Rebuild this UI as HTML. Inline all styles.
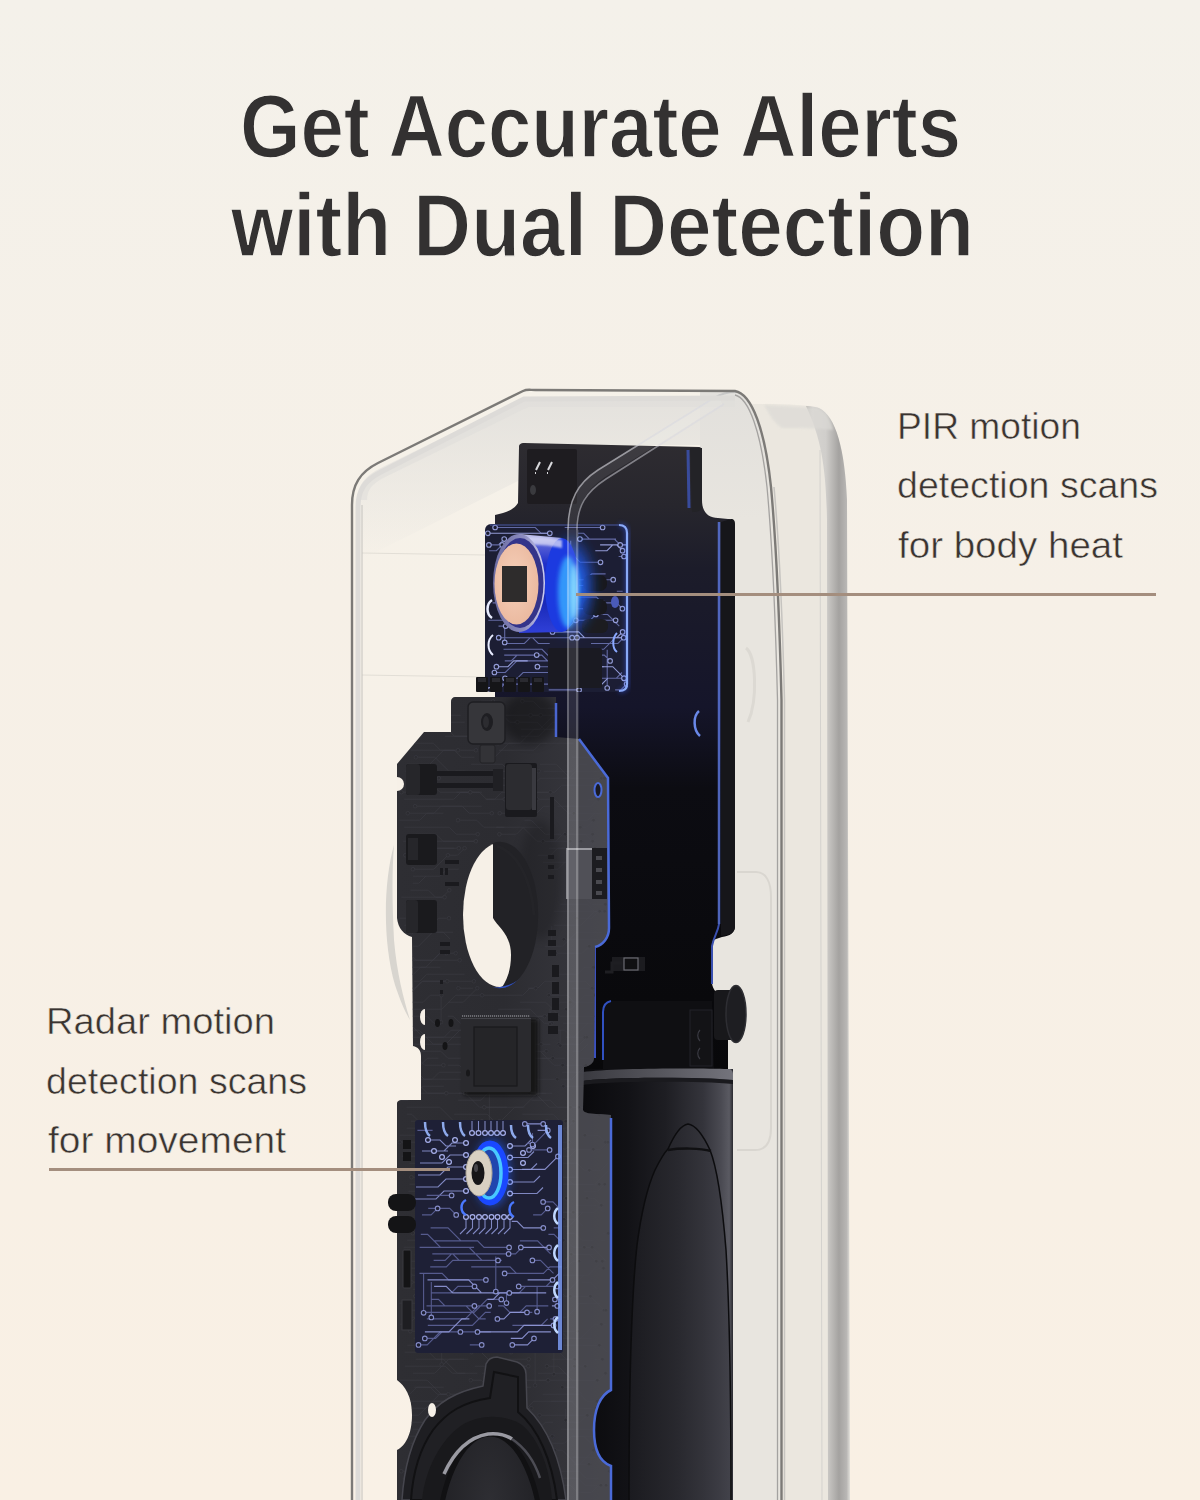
<!DOCTYPE html>
<html><head><meta charset="utf-8">
<style>
html,body{margin:0;padding:0;width:1200px;height:1500px;overflow:hidden;background:#f5f0e8;}
svg{display:block;position:absolute;left:0;top:0;}
text{font-family:"Liberation Sans",sans-serif;}
</style></head>
<body>
<svg width="1200" height="1500" viewBox="0 0 1200 1500">
<defs>
  <linearGradient id="bg" x1="0" y1="0" x2="0" y2="1">
    <stop offset="0" stop-color="#f4f1ea"/>
    <stop offset="0.4" stop-color="#f6f0e7"/>
    <stop offset="1" stop-color="#f9f0e4"/>
  </linearGradient>
  <linearGradient id="rim" x1="0" y1="0" x2="1" y2="0">
    <stop offset="0" stop-color="#bcbab6"/>
    <stop offset="0.15" stop-color="#d6d4d0"/>
    <stop offset="0.45" stop-color="#d0cecb"/>
    <stop offset="0.75" stop-color="#a4a2a0"/>
    <stop offset="0.92" stop-color="#b8b6b4"/>
    <stop offset="1" stop-color="#e0ded9"/>
  </linearGradient>
  <linearGradient id="batt" x1="0" y1="0" x2="1" y2="0">
    <stop offset="0" stop-color="#0a0a0d"/>
    <stop offset="0.3" stop-color="#121216"/>
    <stop offset="0.55" stop-color="#1e1e23"/>
    <stop offset="0.8" stop-color="#34343b"/>
    <stop offset="0.92" stop-color="#4a4a52"/>
    <stop offset="0.975" stop-color="#5a5a62"/>
    <stop offset="1" stop-color="#2a2a30"/>
  </linearGradient>
  <linearGradient id="battin" x1="0" y1="0" x2="1" y2="0">
    <stop offset="0" stop-color="#1c1c21"/>
    <stop offset="0.5" stop-color="#2a2a30"/>
    <stop offset="1" stop-color="#3e3e46"/>
  </linearGradient>
  <linearGradient id="backb" x1="0" y1="0" x2="0" y2="1">
    <stop offset="0" stop-color="#2e2c31"/>
    <stop offset="0.1" stop-color="#27262d"/>
    <stop offset="0.2" stop-color="#1c1c2a"/>
    <stop offset="0.42" stop-color="#15152a"/>
    <stop offset="0.55" stop-color="#0c0c12"/>
    <stop offset="1" stop-color="#08080a"/>
  </linearGradient>
  <linearGradient id="mainpcb" x1="0" y1="0" x2="1" y2="0">
    <stop offset="0" stop-color="#2e2e33"/>
    <stop offset="0.5" stop-color="#2c2c31"/>
    <stop offset="0.8" stop-color="#34343a"/>
    <stop offset="1" stop-color="#38383e"/>
  </linearGradient>
  <linearGradient id="shelltop" x1="0" y1="0" x2="0" y2="1">
    <stop offset="0" stop-color="#e2e0dc"/>
    <stop offset="1" stop-color="#e2e0dc" stop-opacity="0"/>
  </linearGradient>
  <linearGradient id="canbody" x1="0" y1="0" x2="0" y2="1">
    <stop offset="0" stop-color="#c8c8ea"/>
    <stop offset="0.1" stop-color="#5a64d8"/>
    <stop offset="0.3" stop-color="#2030c8"/>
    <stop offset="0.7" stop-color="#1a2ab8"/>
    <stop offset="1" stop-color="#3040d8"/>
  </linearGradient>
  <radialGradient id="pirglow" cx="0.5" cy="0.5" r="0.5">
    <stop offset="0" stop-color="#3090ff"/>
    <stop offset="0.5" stop-color="#2060ff" stop-opacity="0.8"/>
    <stop offset="1" stop-color="#2060ff" stop-opacity="0"/>
  </radialGradient>
  <radialGradient id="spk" cx="0.5" cy="0.3" r="0.7">
    <stop offset="0" stop-color="#2e2e33"/>
    <stop offset="1" stop-color="#1c1c20"/>
  </radialGradient>
  <linearGradient id="pirrim" x1="0" y1="0" x2="1" y2="0">
    <stop offset="0" stop-color="#6a6aa0"/>
    <stop offset="0.6" stop-color="#8c8cc0"/>
    <stop offset="1" stop-color="#d0d0f0"/>
  </linearGradient>
  <radialGradient id="pirface" cx="0.45" cy="0.45" r="0.6">
    <stop offset="0" stop-color="#f6d0ba"/>
    <stop offset="1" stop-color="#eab89e"/>
  </radialGradient>
  <linearGradient id="lip" x1="0" y1="0" x2="1" y2="0">
    <stop offset="0" stop-color="#3a3a40"/>
    <stop offset="0.5" stop-color="#55555c"/>
    <stop offset="1" stop-color="#74747c"/>
  </linearGradient>
  <linearGradient id="rgrey" gradientUnits="userSpaceOnUse" x1="0" y1="395" x2="0" y2="520">
    <stop offset="0" stop-color="#e2e0dc"/>
    <stop offset="1" stop-color="#e8e5df"/>
  </linearGradient>
  <filter id="blur1" x="-50%" y="-50%" width="200%" height="200%"><feGaussianBlur stdDeviation="1"/></filter>
  <filter id="blur2" x="-50%" y="-50%" width="200%" height="200%"><feGaussianBlur stdDeviation="2"/></filter>
  <filter id="blur3" x="-50%" y="-50%" width="200%" height="200%"><feGaussianBlur stdDeviation="3"/></filter>
  <filter id="blur5" x="-50%" y="-50%" width="200%" height="200%"><feGaussianBlur stdDeviation="5"/></filter>
  <clipPath id="holeclip"><ellipse cx="500" cy="915" rx="38.2" ry="73.2"/></clipPath>
  <clipPath id="pirclip"><rect x="485" y="524" width="143" height="168" rx="6"/></clipPath>
  <clipPath id="radclip"><rect x="415" y="1120" width="148" height="233" rx="3"/></clipPath>
  <clipPath id="mainclip"><path id="mainpath" d="M455,697 L556,697 L556,737 L579,739 L608,778 L609,928 C609,938 603,945 595,947 L594,1058 C594,1063 590,1066 584,1067 L583,1110 C584,1113 590,1114 600,1114 L611,1115 L611,1390 C600,1395 594,1410 594,1430 C594,1450 600,1462 611,1466 L611,1500 L397,1500 L397,1450 C405,1446 412,1435 412,1415 C412,1396 405,1386 397,1380 L397,1104 C397,1101 399,1100 402,1100 L421,1100 L421,1056 C421,1050 418,1047 413,1046 L412,937 C404,935 398,928 397,918 L397,764 L424,732 L451,732 L451,701 C451,699 453,697 455,697 Z"/></clipPath>
</defs>
<!-- background -->
<rect x="0" y="0" width="1200" height="1500" fill="url(#bg)"/>

<!-- ===== back plate (right) ===== -->
<path d="M740,404 L762,404 C790,404 808,405 818,408 C836,416 845,450 847,500 L850,1500 L740,1500 Z" fill="#ebe7df"/>
<path d="M806,406 C812,406 816,407 819,408 C836,416 845,450 847,500 L850,1500 L828,1500 L827,520 C826,470 822,440 806,406 Z" fill="url(#rim)"/>
<path d="M764,405 L817,408 C826,412 831,420 833,430 C815,428 795,428 782,428 C775,424 770,416 764,405 Z" fill="#dcdad6" opacity="0.7" filter="url(#blur1)"/>

<!-- ===== shell interior ===== -->
<path d="M352,1500 L352,505 C352,485 360,472 378,463 L523,391 C527,389 530,390 535,390 L735,391 C752,394 765,430 771,487 C775,530 779,600 781.5,700 L781.5,1500 Z" fill="#ffffff" fill-opacity="0.08"/>
<!-- right interior greyer -->
<path d="M700,391 L735,391 C752,394 765,430 771,487 C775,530 779,600 781.5,700 L781.5,1500 L700,1500 Z" fill="url(#rgrey)"/>
<!-- top shading under diagonal -->
<path d="M360,505 C360,488 367,479 382,471 L526,399 L700,399 L700,445 L520,445 L520,480 L400,540 L360,560 Z" fill="url(#shelltop)" opacity="0.9"/>
<path d="M362,500 C362,488 368,480 382,473 L527,402 L735,402" fill="none" stroke="#e0deda" stroke-width="10" opacity="0.6"/>

<!-- faint lines in shell -->
<line x1="362" y1="553" x2="486" y2="555" stroke="#e2ded6" stroke-width="1.2"/>
<line x1="362" y1="675" x2="486" y2="677" stroke="#e2ded6" stroke-width="1.2"/>
<path d="M394,845 C384,880 382,940 395,985 C400,1000 405,1012 410,1020 C404,1000 397,975 394,940 C392,900 392,870 394,845 Z" fill="#d8d5cf"/>
<path d="M737,872 L756,872 C766,872 771,882 771,897 L771,1128 C771,1143 765,1150 755,1150 L737,1150" fill="none" stroke="#d9d6d0" stroke-width="2"/>
<path d="M746,648 C756,655 758,700 748,722" fill="none" stroke="#dcd9d3" stroke-width="3"/>

<!-- ===== back board ===== -->
<path d="M524,443 L699,447 C701,447 702,449 702,452 L702,500 C702,512 708,518 718,518 L728,519 C731,519 733,521 733,524 L735,926 C735,933 730,936 722,937 L716,939 C713,940 712,942 712,946 L712,982 C712,990 718,996 728,997 L728,1071 L583,1071 L583,760 L495,760 L495,515 C505,513 514,510 518,503 L519,447 C519,444 521,443 524,443 Z" fill="url(#backb)"/>
<!-- top label module -->
<rect x="527" y="449" width="50" height="55" rx="2" fill="#1e1c20"/>
<path d="M536,470 L540,462 M535,473 L536,473 M548,470 L552,462 M547,473 L548,473" stroke="#d8d8dc" stroke-width="2"/>
<ellipse cx="533" cy="490" rx="3" ry="5" fill="#3a3a3e"/>
<!-- board side face right -->
<path d="M690,448 L702,448 L702,505 C702,510 700,512 692,512 Z" fill="#232327"/>
<!-- knob -->
<rect x="714" y="990" width="22" height="50" rx="4" fill="#18181b"/>
<ellipse cx="736" cy="1014" rx="10" ry="28.5" fill="#1e1e22" stroke="#2e2e33" stroke-width="1.5"/>
<!-- lower module -->
<path d="M603,1012 C603,1004 606,1001 612,1001 L712,1001 L714,1069 L603,1069 Z" fill="#0f0f12"/>
<path d="M603,1060 L603,1012 C603,1005 606,1002 611,1001" fill="none" stroke="#3050c0" stroke-width="2"/>
<rect x="690" y="1010" width="22" height="56" fill="#131316" stroke="#232328" stroke-width="1"/>
<path d="M700,1030 C697,1033 697,1038 700,1041 M700,1048 C697,1051 697,1056 700,1059" fill="none" stroke="#3a3a42" stroke-width="1.2"/>
<rect x="612" y="957" width="33" height="14" fill="#1c1c20"/>
<rect x="624" y="958" width="14" height="12" fill="#101012" stroke="#6a6a72" stroke-width="1.2"/>
<path d="M605,972 L612,972 L612,963 L622,963" fill="none" stroke="#1e1e22" stroke-width="3"/>
<path d="M721,522 L731,519 C734,519 735,521 735,524 L735,926 C735,931 732,934 727,935 L721,936 Z" fill="#16161a"/>
<!-- back board blue edges -->
<path d="M688,450 L689,508" stroke="#3c52b0" stroke-width="3" opacity="0.85"/>
<path d="M719,522 L719,924" stroke="#5a74d8" stroke-width="2.5" opacity="0.85"/>
<path d="M719,924 C718,932 714,936 712,946 L712,984" fill="none" stroke="#3a50b0" stroke-width="2"/>
<path d="M699,711 C693,716 693,730 700,736" fill="none" stroke="#6a88e8" stroke-width="2.5"/>
<path d="M595,948 L595,1058" stroke="#3a50c0" stroke-width="2"/>

<!-- ===== battery ===== -->
<rect x="583" y="1069" width="150" height="431" fill="url(#batt)"/>
<path d="M583,1072 C610,1068 700,1068 728,1069 C731,1069 733,1071 733,1074 L733,1080 C700,1077 610,1077 583,1081 Z" fill="url(#lip)"/>
<path d="M583,1081 C610,1077 700,1077 733,1080 L733,1084 C700,1081 610,1081 583,1085 Z" fill="#1a1a1e"/>
<path d="M629,1500 C629,1400 631,1300 637,1245 C641,1215 646,1190 655,1170 C660,1160 664,1153 668,1149 C675,1133 681,1125 688,1124 C696,1125 703,1135 710,1150 C716,1165 722,1200 726,1250 C729,1300 731,1400 731,1500 Z" fill="url(#battin)" opacity="0.85"/>
<path d="M629,1500 C629,1400 631,1300 637,1245 C641,1215 646,1190 655,1170 C660,1160 664,1153 668,1149 C675,1133 681,1125 688,1124 C696,1125 703,1135 710,1150 C716,1165 722,1200 726,1250 C729,1300 731,1400 731,1500" fill="none" stroke="#0c0c0e" stroke-width="1.5"/>
<path d="M668,1150 C680,1148 700,1148 711,1151" fill="none" stroke="#101012" stroke-width="2.5"/>

<!-- ===== PIR PCB ===== -->
<rect x="485" y="524" width="143" height="168" rx="6" fill="#1c1e34"/>
<g clip-path="url(#pirclip)">
<path d="M495.1,527.5 L535.3,527.5 L541.1,533.3 L548.9,533.3 M564.7,527.5 L602.6,527.5 M578.1,533.3 L583.7,533.3 L589.5,539.1 L616.0,539.1 M579.9,539.1 L614.4,539.1 L620.2,544.9 M488.9,544.9 L498.4,544.9 L504.2,539.1 M489.1,550.7 L496.4,550.7 L502.2,544.9 M564.1,556.5 L574.4,556.5 L580.2,562.3 L600.5,562.3 M618.6,556.5 L624.0,556.5 M577.5,579.7 L585.9,579.7 L591.7,573.9 L605.6,573.9 M569.5,585.5 L583.2,585.5 L589.0,579.7 L613.2,579.7 M616.8,591.3 L622.7,591.3 M576.4,597.1 L596.4,597.1 L602.2,602.9 M492.6,602.9 L497.9,602.9 M605.0,602.9 L616.6,602.9 L622.4,608.7 M571.0,608.7 L585.3,608.7 L591.1,602.9 M595.1,614.5 L607.7,614.5 L619.3,626.1 M488.3,620.3 L503.4,620.3 M575.8,620.3 L590.1,620.3 L595.9,614.5 M498.5,626.1 L505.7,626.1 M563.1,626.1 L569.4,626.1 L575.2,620.3 L615.6,620.3 M498.7,637.7 L532.5,637.7 L538.3,643.5 L549.7,643.5 M504.6,643.5 L524.4,643.5 L530.2,637.7 L577.0,637.7 M591.0,643.5 L617.9,643.5 L623.7,637.7 M503.5,649.3 L542.0,649.3 L547.8,655.1 L552.8,655.1 M567.2,649.3 L603.7,649.3 L615.3,637.7 L626.7,637.7 M504.2,655.1 L541.8,655.1 L547.6,660.9 L573.5,660.9 M583.3,655.1 L604.3,655.1 L610.1,660.9 M504.8,660.9 L511.3,660.9 L517.1,655.1 L536.7,655.1 M557.9,660.9 L570.4,660.9 L576.2,666.7 L603.9,666.7 M537.4,666.7 L557.0,666.7 L568.6,678.3 L580.3,678.3 M494.4,672.5 L505.3,672.5 L516.9,660.9 L552.5,660.9 M568.8,672.5 L579.2,672.5 L585.0,678.3 L624.0,678.3 M505.0,678.3 L517.3,678.3 L523.1,672.5 L575.1,672.5 M597.0,678.3 L616.2,678.3 L622.0,672.5 M499.3,684.1 L558.1,684.1 L569.7,672.5 L576.5,672.5 M489.6,689.9 L498.6,689.9 L504.4,684.1 L524.7,684.1 M548.7,689.9 L579.1,689.9 M615.1,689.9 L620.8,689.9 L626.6,684.1 M570.7,540.7 L570.7,574.5 M607.2,649.8 L607.2,688.0 M504.7,627.6 L504.7,642.4" fill="none" stroke="#6a72b0" stroke-width="1.1" stroke-opacity="0.9"/>
<path d="M487.8,533.3 L549.8,533.3 M600.1,544.9 L616.7,544.9 L622.5,550.7 M595.3,550.7 L607.0,550.7 L612.8,544.9 L626.9,544.9 M552.5,631.9 L578.7,631.9 L584.5,637.7 L622.9,637.7 M572.1,637.7 L616.8,637.7 L622.6,631.9 M496.4,666.7 L507.9,666.7 L513.7,660.9 L527.7,660.9 M600.2,666.7 L612.8,666.7 L624.4,678.3 M595.5,684.1 L601.9,684.1 L607.7,678.3" fill="none" stroke="#a0a8e8" stroke-width="1.1" stroke-opacity="0.9"/>
<g fill="#1c1e30" stroke="#a0a8e8" stroke-width="1.1" stroke-opacity="0.9"><circle cx="495.1" cy="527.5" r="2.3"/><circle cx="602.6" cy="527.5" r="2.3"/><circle cx="549.8" cy="533.3" r="2.3"/><circle cx="487.8" cy="533.3" r="2.3"/><circle cx="620.2" cy="544.9" r="2.3"/><circle cx="579.9" cy="539.1" r="2.3"/><circle cx="504.2" cy="539.1" r="2.3"/><circle cx="488.9" cy="544.9" r="2.3"/><circle cx="622.5" cy="550.7" r="2.3"/><circle cx="502.2" cy="544.9" r="2.3"/><circle cx="600.5" cy="562.3" r="2.3"/><circle cx="564.1" cy="556.5" r="2.3"/><circle cx="624.0" cy="556.5" r="2.3"/><circle cx="613.2" cy="579.7" r="2.3"/><circle cx="569.5" cy="585.5" r="2.3"/><circle cx="602.2" cy="602.9" r="2.3"/><circle cx="622.4" cy="608.7" r="2.3"/><circle cx="571.0" cy="608.7" r="2.3"/><circle cx="595.9" cy="614.5" r="2.3"/><circle cx="575.8" cy="620.3" r="2.3"/><circle cx="505.7" cy="626.1" r="2.3"/><circle cx="615.6" cy="620.3" r="2.3"/><circle cx="552.5" cy="631.9" r="2.3"/><circle cx="498.7" cy="637.7" r="2.3"/><circle cx="622.6" cy="631.9" r="2.3"/><circle cx="572.1" cy="637.7" r="2.3"/><circle cx="577.0" cy="637.7" r="2.3"/><circle cx="623.7" cy="637.7" r="2.3"/><circle cx="573.5" cy="660.9" r="2.3"/><circle cx="610.1" cy="660.9" r="2.3"/><circle cx="536.7" cy="655.1" r="2.3"/><circle cx="496.4" cy="666.7" r="2.3"/><circle cx="537.4" cy="666.7" r="2.3"/><circle cx="624.4" cy="678.3" r="2.3"/><circle cx="552.5" cy="660.9" r="2.3"/><circle cx="494.4" cy="672.5" r="2.3"/><circle cx="624.0" cy="678.3" r="2.3"/><circle cx="575.1" cy="672.5" r="2.3"/><circle cx="505.0" cy="678.3" r="2.3"/><circle cx="597.0" cy="678.3" r="2.3"/><circle cx="524.7" cy="684.1" r="2.3"/><circle cx="489.6" cy="689.9" r="2.3"/><circle cx="579.1" cy="689.9" r="2.3"/><circle cx="626.6" cy="684.1" r="2.3"/><circle cx="570.7" cy="574.5" r="2.3"/><circle cx="607.2" cy="688.0" r="2.3"/><circle cx="504.7" cy="642.4" r="2.3"/></g>

</g>
<path d="M619,525 C624,525 627,528 627,533 L627,684 C627,689 624,691 619,691" fill="none" stroke="#3a60ff" stroke-width="5" opacity="0.35" filter="url(#blur2)"/>
<path d="M619,525 C624,525 627,528 627,533 L627,684 C627,689 624,691 619,691" fill="none" stroke="#8aaaf8" stroke-width="2.2"/>
<path d="M490,525 L619,525" stroke="#5a6ab8" stroke-width="1" opacity="0.8"/>
<!-- side lit notches on PIR -->
<path d="M492,600 C486,604 486,614 492,618" fill="none" stroke="#e8ecff" stroke-width="2.5"/>
<path d="M493,635 C487,640 487,650 493,655" fill="none" stroke="#e8ecff" stroke-width="2"/>
<path d="M617,633 C612,638 612,648 617,652" fill="none" stroke="#8aa8ff" stroke-width="2"/>
<!-- dark components on PIR -->
<rect x="583" y="575" width="24" height="16" rx="7" fill="#18181c"/>
<rect x="583" y="599" width="24" height="16" rx="7" fill="#18181c"/>
<rect x="582" y="619" width="26" height="14" rx="6" fill="#1c1c20"/>
<rect x="548" y="648" width="54" height="40" rx="2" fill="#1a1a22"/>
<ellipse cx="615" cy="602" rx="4" ry="6" fill="#4a5ab8"/>
<!-- pins -->
<g fill="#151518">
  <rect x="476" y="677" width="12" height="15" rx="1"/>
  <rect x="490" y="677" width="12" height="15" rx="1"/>
  <rect x="504" y="677" width="12" height="15" rx="1"/>
  <rect x="518" y="677" width="12" height="15" rx="1"/>
  <rect x="532" y="677" width="12" height="15" rx="1"/>
</g>
<g fill="#2a2a30">
  <rect x="478" y="678" width="8" height="4"/><rect x="492" y="678" width="8" height="4"/><rect x="506" y="678" width="8" height="4"/><rect x="520" y="678" width="8" height="4"/><rect x="534" y="678" width="8" height="4"/>
</g>
<!-- PIR sensor -->
<ellipse cx="570" cy="586" rx="28" ry="54" fill="url(#pirglow)" filter="url(#blur5)"/>
<path d="M519,534 L562,538 L562,632 L519,633 Z" fill="url(#canbody)"/>
<ellipse cx="562" cy="585" rx="17" ry="47" fill="#1c3ae0"/>
<ellipse cx="568" cy="592" rx="10" ry="36" fill="#38a8ff" opacity="0.85" filter="url(#blur2)"/>
<ellipse cx="574" cy="592" rx="4" ry="28" fill="#90e8ff" opacity="0.7" filter="url(#blur2)"/>
<path d="M524,537 C535,536 550,537 562,540 L562,548 C550,545 535,544 524,545 Z" fill="#e0e0f8" opacity="0.75" filter="url(#blur1)"/>
<ellipse cx="519" cy="583" rx="26" ry="49" fill="url(#pirrim)"/>
<ellipse cx="520" cy="583" rx="23.5" ry="45" fill="#34348a"/>
<ellipse cx="516.5" cy="584" rx="22" ry="40.5" fill="url(#pirface)"/>
<rect x="502" y="566" width="25" height="36" fill="#2e2c2c"/>

<!-- ===== main PCB ===== -->
<use href="#mainpath" fill="url(#mainpcb)"/>
<g clip-path="url(#mainclip)">
<path d="M410.2,701.2 L452.7,701.2 M481.3,701.2 L492.9,701.2 M522.4,701.2 L533.2,701.2 L540.2,708.2 L560.2,708.2 M578.0,701.2 L585.6,701.2 M402.0,708.2 L412.1,708.2 L419.1,701.2 L444.7,701.2 M469.0,708.2 L490.4,708.2 L497.4,715.2 L540.7,715.2 M548.0,708.2 L568.1,708.2 M413.7,715.2 L429.5,715.2 L436.5,722.2 L464.8,722.2 M489.3,715.2 L502.7,715.2 L509.7,722.2 L517.4,722.2 M530.6,715.2 L559.2,715.2 L573.2,701.2 L606.7,701.2 M415.7,722.2 L440.4,722.2 L454.4,736.2 L496.8,736.2 M514.0,722.2 L537.1,722.2 L544.1,729.2 L580.1,729.2 M590.1,722.2 L597.9,722.2 L604.9,715.2 M411.3,729.2 L436.6,729.2 L450.6,715.2 L460.7,715.2 M469.7,729.2 L487.0,729.2 L494.0,736.2 L499.2,736.2 M520.9,729.2 L539.7,729.2 L553.7,715.2 L577.6,715.2 M599.6,729.2 L605.3,729.2 M405.7,736.2 L416.2,736.2 L423.2,729.2 L435.7,729.2 M444.9,736.2 L484.5,736.2 L491.5,743.2 L498.0,743.2 M521.1,736.2 L539.0,736.2 L553.0,722.2 L560.7,722.2 M570.2,736.2 L589.5,736.2 L596.5,743.2 M411.0,743.2 L433.4,743.2 L440.4,750.2 L475.9,750.2 M495.5,743.2 L520.2,743.2 L534.2,729.2 L577.4,729.2 M598.1,743.2 L603.4,743.2 M410.6,750.2 L454.4,750.2 L461.4,757.2 L474.5,757.2 M499.0,750.2 L534.0,750.2 L541.0,743.2 L573.9,743.2 M588.9,750.2 L600.5,750.2 L607.5,757.2 M415.9,757.2 L434.8,757.2 L448.8,771.2 L465.0,771.2 M482.1,757.2 L494.6,757.2 L508.6,743.2 L547.3,743.2 M572.0,757.2 L593.3,757.2 L600.3,750.2 L607.2,750.2 M406.5,764.2 L429.7,764.2 L443.7,750.2 L458.0,750.2 M471.1,764.2 L502.3,764.2 L509.3,771.2 L515.7,771.2 M540.0,764.2 L556.3,764.2 L570.3,778.2 L601.5,778.2 M405.3,771.2 L417.1,771.2 L424.1,778.2 L438.8,778.2 M455.5,771.2 L516.5,771.2 L523.5,764.2 L530.4,764.2 M543.6,771.2 L572.7,771.2 L579.7,764.2 L586.9,764.2 M600.1,771.2 L605.3,771.2 M415.4,778.2 L430.8,778.2 L437.8,785.2 L472.2,785.2 M496.2,778.2 L524.8,778.2 L531.8,771.2 L538.6,771.2 M562.8,778.2 L568.7,778.2 L575.7,771.2 L602.1,771.2 M415.8,785.2 L432.9,785.2 L439.9,792.2 L481.9,792.2 M497.3,785.2 L533.2,785.2 L540.2,778.2 L573.9,778.2 M590.0,785.2 L597.4,785.2 L604.4,778.2 M401.4,792.2 L412.0,792.2 L426.0,778.2 L435.5,778.2 M456.3,792.2 L479.4,792.2 L486.4,799.2 L504.7,799.2 M524.4,792.2 L554.9,792.2 L561.9,785.2 L596.3,785.2 M404.2,799.2 L453.8,799.2 L460.8,792.2 L470.2,792.2 M485.6,799.2 L494.7,799.2 L501.7,792.2 L529.2,792.2 M536.8,799.2 L554.2,799.2 L568.2,813.2 L573.9,813.2 M587.6,799.2 L593.9,799.2 L600.9,792.2 M415.1,806.2 L462.2,806.2 L469.2,813.2 L491.8,813.2 M513.0,806.2 L520.9,806.2 L534.9,792.2 L550.4,792.2 M557.5,806.2 L591.3,806.2 L598.3,799.2 M407.8,813.2 L434.1,813.2 L441.1,806.2 L481.7,806.2 M499.7,813.2 L536.9,813.2 L543.9,806.2 L552.0,806.2 M573.8,813.2 L602.4,813.2 L609.4,806.2 M399.3,820.2 L419.9,820.2 L426.9,813.2 L443.4,813.2 M458.0,820.2 L476.7,820.2 L483.7,827.2 L504.5,827.2 M524.3,820.2 L531.2,820.2 L545.2,834.2 L561.0,834.2 M568.6,820.2 L588.0,820.2 L595.0,813.2 M404.2,827.2 L449.1,827.2 L456.1,834.2 L477.7,834.2 M496.1,827.2 L522.8,827.2 L536.8,841.2 L570.3,841.2 M580.4,827.2 L586.5,827.2 L593.5,820.2 M415.9,834.2 L435.9,834.2 L442.9,841.2 L475.9,841.2 M499.4,834.2 L516.5,834.2 L523.5,827.2 L542.6,827.2 M565.1,834.2 L585.6,834.2 L592.6,841.2 M403.2,841.2 L409.3,841.2 L416.3,848.2 L454.3,848.2 M542.9,841.2 L555.7,841.2 L562.7,834.2 L592.6,834.2 M603.0,841.2 L608.4,841.2 M412.2,848.2 L424.7,848.2 L431.7,841.2 L475.1,841.2 M549.0,848.2 L574.1,848.2 L581.1,841.2 M405.3,855.2 L411.3,855.2 L418.3,862.2 L437.0,862.2 M447.6,855.2 L457.6,855.2 L464.6,848.2 M537.7,855.2 L550.6,855.2 L557.6,848.2 L596.8,848.2 M416.7,862.2 L423.1,862.2 L437.1,848.2 L458.8,848.2 M542.9,862.2 L580.8,862.2 L594.8,848.2 M412.9,869.2 L433.9,869.2 L447.9,855.2 M551.1,869.2 L558.2,869.2 L565.2,862.2 M412.9,876.2 L440.2,876.2 L447.2,869.2 L458.8,869.2 M602.6,876.2 L607.8,876.2 M412.7,883.2 L418.8,883.2 L425.8,876.2 M566.0,883.2 L571.3,883.2 L585.3,869.2 M410.4,890.2 L428.5,890.2 L435.5,897.2 L444.6,897.2 M401.3,897.2 L442.3,897.2 L449.3,890.2 M568.3,897.2 L584.6,897.2 L591.6,904.2 L605.4,904.2 M410.9,904.2 L419.4,904.2 L426.4,911.2 M560.3,904.2 L587.5,904.2 L594.5,911.2 L601.4,911.2 M413.4,911.2 L418.7,911.2 L425.7,904.2 M554.2,911.2 L599.7,911.2 M399.4,918.2 L414.4,918.2 L421.4,925.2 M577.0,918.2 L592.0,918.2 L599.0,911.2 L604.7,911.2 M404.4,925.2 L431.5,925.2 L438.5,918.2 L449.0,918.2 M554.0,925.2 L580.7,925.2 L594.7,911.2 L606.9,911.2 M411.4,932.2 L443.3,932.2 L450.3,939.2 M563.7,939.2 L601.9,939.2 L608.9,932.2 M409.9,946.2 L418.5,946.2 L432.5,932.2 L453.1,932.2 M544.7,946.2 L562.5,946.2 L576.5,932.2 L602.1,932.2 M399.0,953.2 L408.9,953.2 L415.9,960.2 L459.6,960.2 M555.6,953.2 L582.3,953.2 L589.3,946.2 M405.7,960.2 L433.2,960.2 L440.2,953.2 L455.7,953.2 M592.9,960.2 L599.4,960.2 L606.4,953.2 M405.2,967.2 L425.7,967.2 L439.7,953.2 L446.3,953.2 M590.0,967.2 L598.5,967.2 M407.1,974.2 L413.5,974.2 L420.5,967.2 L440.6,967.2 M556.6,974.2 L577.4,974.2 L584.4,967.2 L593.3,967.2 M414.1,981.2 L419.9,981.2 L426.9,974.2 L464.6,974.2 M567.4,981.2 L585.1,981.2 L592.1,988.2 M405.1,988.2 L414.9,988.2 L421.9,981.2 L447.2,981.2 M458.4,988.2 L473.0,988.2 M527.9,988.2 L537.8,988.2 L544.8,981.2 L556.7,981.2 M572.1,988.2 L589.0,988.2 L596.0,995.2 M399.3,995.2 L408.6,995.2 L422.6,981.2 L473.9,981.2 M482.8,995.2 L522.8,995.2 L529.8,988.2 L535.7,988.2 M548.8,995.2 L567.4,995.2 L574.4,1002.2 L594.2,1002.2 M600.6,995.2 L606.0,995.2 M402.8,1002.2 L423.3,1002.2 L430.3,995.2 L441.4,995.2 M448.2,1002.2 L463.3,1002.2 L477.3,988.2 M519.9,1002.2 L545.7,1002.2 L559.7,1016.2 L600.1,1016.2 M405.8,1009.2 L441.7,1009.2 L455.7,995.2 L482.1,995.2 M498.2,1009.2 L530.4,1009.2 L544.4,1023.2 L551.6,1023.2 M566.3,1009.2 L571.3,1009.2 L585.3,995.2 L603.4,995.2 M405.2,1016.2 L426.8,1016.2 L433.8,1023.2 L439.3,1023.2 M447.7,1016.2 L453.3,1016.2 L460.3,1023.2 L487.3,1023.2 M506.6,1016.2 L546.3,1016.2 L560.3,1002.2 L570.2,1002.2 M590.3,1016.2 L595.3,1016.2 L609.3,1002.2 M399.7,1023.2 L409.3,1023.2 L423.3,1037.2 L463.2,1037.2 M482.4,1023.2 L520.0,1023.2 L527.0,1016.2 L544.7,1016.2 M563.0,1023.2 L593.2,1023.2 L607.2,1009.2 M404.5,1030.2 L419.3,1030.2 L433.3,1044.2 L461.2,1044.2 M474.4,1030.2 L519.8,1030.2 L533.8,1044.2 L541.2,1044.2 M553.9,1030.2 L564.8,1030.2 L571.8,1037.2 L584.9,1037.2 M594.1,1030.2 L602.7,1030.2 L609.7,1037.2 M408.7,1037.2 L444.2,1037.2 L451.2,1030.2 L480.7,1030.2 M492.6,1037.2 L505.6,1037.2 L512.6,1044.2 L550.5,1044.2 M565.7,1037.2 L573.5,1037.2 L587.5,1023.2 M410.4,1044.2 L445.8,1044.2 L459.8,1030.2 L486.6,1030.2 M506.3,1044.2 L520.8,1044.2 L527.8,1051.2 L546.4,1051.2 M558.8,1044.2 L579.8,1044.2 L586.8,1037.2 M412.3,1051.2 L440.8,1051.2 L447.8,1058.2 L487.2,1058.2 M511.0,1051.2 L540.2,1051.2 L547.2,1058.2 L565.1,1058.2 M573.0,1051.2 L580.9,1051.2 L587.9,1044.2 M401.1,1058.2 L417.6,1058.2 L424.6,1065.2 L443.4,1065.2 M466.8,1058.2 L490.3,1058.2 L497.3,1051.2 L512.9,1051.2 M520.3,1058.2 L546.9,1058.2 L553.9,1065.2 L562.6,1065.2 M579.5,1058.2 L589.7,1058.2 L596.7,1065.2 M401.4,1065.2 L420.4,1065.2 L427.4,1058.2 L438.6,1058.2 M447.7,1065.2 L459.2,1065.2 L473.2,1079.2 L486.2,1079.2 M494.2,1065.2 L509.1,1065.2 L523.1,1079.2 L557.2,1079.2 M565.6,1065.2 L581.5,1065.2 L595.5,1079.2 M409.9,1072.2 L417.2,1072.2 L424.2,1079.2 L467.1,1079.2 M480.2,1072.2 L499.3,1072.2 L513.3,1058.2 L552.8,1058.2 M561.9,1072.2 L582.0,1072.2 L589.0,1079.2 M415.5,1079.2 L432.3,1079.2 L439.3,1072.2 L468.7,1072.2 M484.9,1079.2 L505.8,1079.2 L512.8,1086.2 L536.1,1086.2 M560.5,1079.2 L571.8,1079.2 L585.8,1065.2 M405.9,1086.2 L420.6,1086.2 L427.6,1093.2 L465.2,1093.2 M472.4,1086.2 L498.5,1086.2 L505.5,1093.2 L546.0,1093.2 M563.3,1086.2 L583.7,1086.2 L590.7,1079.2 M407.3,1093.2 L416.0,1093.2 L423.0,1086.2 L443.8,1086.2 M458.7,1093.2 L465.6,1093.2 L479.6,1107.2 L507.2,1107.2 M529.4,1093.2 L535.2,1093.2 L549.2,1107.2 L594.2,1107.2 M400.8,1100.2 L408.3,1100.2 L415.3,1093.2 L446.3,1093.2 M458.0,1100.2 L481.0,1100.2 L488.0,1093.2 L521.4,1093.2 M531.5,1100.2 L550.1,1100.2 L557.1,1107.2 L578.7,1107.2 M588.5,1100.2 L601.5,1100.2 L608.5,1107.2 M406.5,1107.2 L439.8,1107.2 L453.8,1121.2 L473.5,1121.2 M484.2,1107.2 L523.2,1107.2 L537.2,1093.2 L552.3,1093.2 M570.4,1107.2 L587.3,1107.2 L601.3,1093.2 M406.7,1114.2 L411.7,1114.2 L418.7,1121.2 L438.9,1121.2 M454.2,1114.2 L487.2,1114.2 L494.2,1121.2 L499.5,1121.2 M522.4,1114.2 L553.0,1114.2 L560.0,1121.2 L565.8,1121.2 M590.4,1114.2 L599.1,1114.2 M411.0,1121.2 L419.7,1121.2 L426.7,1128.2 L467.7,1128.2 M488.3,1121.2 L500.9,1121.2 L514.9,1107.2 L524.4,1107.2 M546.9,1121.2 L555.7,1121.2 L569.7,1135.2 M406.6,1128.2 L435.0,1128.2 L442.0,1121.2 L464.4,1121.2 M471.8,1128.2 L488.7,1128.2 L495.7,1121.2 L517.6,1121.2 M542.4,1128.2 L566.5,1128.2 L573.5,1121.2 M399.6,1135.2 L445.5,1135.2 L459.5,1121.2 L481.9,1121.2 M492.9,1135.2 L523.6,1135.2 L537.6,1149.2 L568.0,1149.2 M584.9,1135.2 L598.5,1135.2 L605.5,1142.2 M399.7,1142.2 L425.4,1142.2 L432.4,1135.2 L466.0,1135.2 M477.8,1142.2 L505.4,1142.2 L512.4,1135.2 L533.2,1135.2 M544.7,1142.2 L557.1,1142.2 L564.1,1149.2 L593.3,1149.2 M416.9,1149.2 L437.0,1149.2 L451.0,1163.2 L479.1,1163.2 M492.1,1149.2 L547.9,1149.2 L554.9,1142.2 L568.9,1142.2 M592.4,1149.2 L600.9,1149.2 L607.9,1142.2 M401.6,1156.2 L433.7,1156.2 L440.7,1163.2 L468.6,1163.2 M474.8,1156.2 L493.7,1156.2 L507.7,1142.2 L543.0,1142.2 M558.8,1156.2 L569.8,1156.2 L576.8,1149.2 L591.7,1149.2 M409.5,1163.2 L446.2,1163.2 L453.2,1170.2 L461.6,1170.2 M470.7,1163.2 L478.3,1163.2 L485.3,1170.2 L544.4,1170.2 M551.3,1163.2 L577.3,1163.2 L584.3,1170.2 L589.5,1170.2 M412.7,1170.2 L428.4,1170.2 L435.4,1163.2 L445.1,1163.2 M465.8,1170.2 L502.8,1170.2 L509.8,1177.2 L537.5,1177.2 M548.7,1170.2 L556.0,1170.2 L563.0,1177.2 L578.9,1177.2 M589.3,1170.2 L600.8,1170.2 L607.8,1163.2 M411.4,1177.2 L417.9,1177.2 L424.9,1170.2 L438.6,1170.2 M456.2,1177.2 L468.4,1177.2 L482.4,1163.2 L490.6,1163.2 M503.3,1177.2 L513.3,1177.2 L520.3,1184.2 L543.7,1184.2 M560.8,1177.2 L565.9,1177.2 L572.9,1184.2 L599.2,1184.2 M409.5,1184.2 L432.1,1184.2 L439.1,1177.2 L450.6,1177.2 M470.0,1184.2 L497.7,1184.2 L511.7,1198.2 L540.6,1198.2 M558.0,1184.2 L594.6,1184.2 L608.6,1170.2 M408.4,1191.2 L429.1,1191.2 L443.1,1177.2 L484.3,1177.2 M497.5,1191.2 L546.8,1191.2 L553.8,1198.2 L566.4,1198.2 M584.4,1191.2 L597.7,1191.2 L604.7,1184.2 M411.9,1198.2 L436.6,1198.2 L443.6,1205.2 L452.8,1205.2 M460.9,1198.2 L479.3,1198.2 L486.3,1205.2 L500.1,1205.2 M515.2,1198.2 L525.3,1198.2 L539.3,1212.2 L573.4,1212.2 M587.0,1198.2 L594.2,1198.2 L601.2,1205.2 M413.5,1205.2 L425.7,1205.2 L439.7,1219.2 L481.4,1219.2 M504.9,1205.2 L540.0,1205.2 L547.0,1198.2 L560.2,1198.2 M575.6,1205.2 L596.8,1205.2 L603.8,1212.2 M416.8,1212.2 L440.5,1212.2 L447.5,1205.2 L460.0,1205.2 M474.9,1212.2 L480.4,1212.2 L487.4,1205.2 L534.5,1205.2 M553.7,1212.2 L594.3,1212.2 L601.3,1205.2 M399.4,1219.2 L425.9,1219.2 L439.9,1233.2 L472.8,1233.2 M488.5,1219.2 L540.3,1219.2 L547.3,1226.2 L557.9,1226.2 M564.1,1219.2 L576.0,1219.2 L583.0,1226.2 M407.0,1226.2 L418.6,1226.2 L425.6,1233.2 L437.3,1233.2 M450.2,1226.2 L456.4,1226.2 L463.4,1219.2 L477.2,1219.2 M501.1,1226.2 L513.0,1226.2 L520.0,1233.2 L545.8,1233.2 M554.1,1226.2 L568.8,1226.2 L582.8,1212.2 M412.8,1233.2 L450.2,1233.2 L457.2,1240.2 L466.9,1240.2 M489.9,1233.2 L495.0,1233.2 L509.0,1247.2 L545.2,1247.2 M566.6,1233.2 L574.7,1233.2 L581.7,1240.2 L593.9,1240.2 M602.7,1233.2 L608.3,1233.2 M407.2,1240.2 L436.4,1240.2 L443.4,1247.2 L449.7,1247.2 M460.3,1240.2 L468.6,1240.2 L482.6,1226.2 L515.5,1226.2 M531.4,1240.2 L565.8,1240.2 L572.8,1247.2 L592.1,1247.2 M600.4,1240.2 L605.4,1240.2 M403.7,1247.2 L419.1,1247.2 L426.1,1254.2 L442.0,1254.2 M466.4,1247.2 L508.3,1247.2 L515.3,1254.2 L520.8,1254.2 M527.8,1247.2 L537.1,1247.2 L544.1,1240.2 L563.4,1240.2 M584.2,1247.2 L592.2,1247.2 L606.2,1261.2 M414.6,1254.2 L449.8,1254.2 L456.8,1261.2 L465.7,1261.2 M489.3,1254.2 L542.7,1254.2 L549.7,1247.2 L558.1,1247.2 M571.2,1254.2 L589.3,1254.2 L596.3,1261.2 M408.3,1261.2 L420.9,1261.2 L427.9,1268.2 L453.9,1268.2 M477.7,1261.2 L492.8,1261.2 L499.8,1254.2 L506.2,1254.2 M522.2,1261.2 L563.7,1261.2 L570.7,1254.2 L593.6,1254.2 M409.1,1268.2 L423.2,1268.2 L430.2,1261.2 L455.1,1261.2 M477.0,1268.2 L490.4,1268.2 L497.4,1261.2 L519.5,1261.2 M527.2,1268.2 L565.9,1268.2 L572.9,1261.2 L579.0,1261.2 M598.3,1268.2 L603.5,1268.2 M410.2,1275.2 L446.4,1275.2 L453.4,1268.2 L466.7,1268.2 M473.1,1275.2 L492.6,1275.2 L499.6,1282.2 L534.4,1282.2 M551.1,1275.2 L588.3,1275.2 L602.3,1261.2 M411.4,1282.2 L435.3,1282.2 L449.3,1268.2 L494.6,1268.2 M512.1,1282.2 L551.2,1282.2 L565.2,1296.2 L570.3,1296.2 M582.3,1282.2 L590.6,1282.2 L597.6,1289.2 M413.1,1289.2 L422.3,1289.2 L436.3,1275.2 L487.0,1275.2 M495.0,1289.2 L503.8,1289.2 L510.8,1296.2 L540.0,1296.2 M560.5,1289.2 L570.1,1289.2 L584.1,1275.2 M415.3,1296.2 L424.0,1296.2 L431.0,1289.2 L445.6,1289.2 M466.0,1296.2 L484.9,1296.2 L491.9,1289.2 L503.8,1289.2 M519.7,1296.2 L537.1,1296.2 L551.1,1282.2 L564.2,1282.2 M581.2,1296.2 L590.1,1296.2 L604.1,1310.2 M399.3,1303.2 L419.0,1303.2 L426.0,1310.2 L433.3,1310.2 M440.0,1303.2 L451.6,1303.2 L465.6,1317.2 L482.5,1317.2 M492.8,1303.2 L522.0,1303.2 L529.0,1310.2 L560.7,1310.2 M576.9,1303.2 L600.5,1303.2 M404.9,1310.2 L437.7,1310.2 L444.7,1303.2 L465.1,1303.2 M472.6,1310.2 L486.7,1310.2 L493.7,1303.2 L503.2,1303.2 M518.7,1310.2 L540.2,1310.2 L554.2,1296.2 L590.4,1296.2 M600.1,1310.2 L605.9,1310.2 M406.0,1317.2 L428.2,1317.2 L442.2,1303.2 L483.7,1303.2 M498.1,1317.2 L519.7,1317.2 L526.7,1324.2 L534.9,1324.2 M549.5,1317.2 L566.6,1317.2 L580.6,1303.2 L587.4,1303.2 M400.1,1324.2 L408.7,1324.2 L415.7,1317.2 L428.2,1317.2 M450.3,1324.2 L464.1,1324.2 L471.1,1331.2 L504.2,1331.2 M512.4,1324.2 L551.6,1324.2 L558.6,1331.2 L577.6,1331.2 M601.4,1324.2 L606.6,1324.2 M410.3,1331.2 L424.7,1331.2 L431.7,1338.2 L438.0,1338.2 M458.3,1331.2 L472.1,1331.2 L479.1,1338.2 L531.9,1338.2 M551.1,1331.2 L560.7,1331.2 L567.7,1338.2 L591.2,1338.2 M413.5,1338.2 L430.9,1338.2 L437.9,1345.2 L443.2,1345.2 M466.5,1338.2 L478.6,1338.2 L485.6,1331.2 L541.9,1331.2 M549.0,1338.2 L581.1,1338.2 L595.1,1324.2 L605.0,1324.2 M407.4,1345.2 L421.9,1345.2 L435.9,1359.2 L468.4,1359.2 M482.6,1345.2 L490.7,1345.2 L497.7,1352.2 L511.1,1352.2 M517.2,1345.2 L552.0,1345.2 L566.0,1359.2 L574.6,1359.2 M582.9,1345.2 L599.8,1345.2 L606.8,1352.2 M404.5,1352.2 L430.6,1352.2 L437.6,1345.2 L464.7,1345.2 M471.6,1352.2 L481.2,1352.2 L495.2,1366.2 L509.2,1366.2 M533.6,1352.2 L551.2,1352.2 L558.2,1345.2 L599.3,1345.2 M415.6,1359.2 L443.4,1359.2 L457.4,1373.2 L477.4,1373.2 M495.4,1359.2 L505.0,1359.2 L512.0,1366.2 L528.3,1366.2 M551.7,1359.2 L572.7,1359.2 L579.7,1366.2 L585.2,1366.2 M594.3,1359.2 L602.4,1359.2 M405.0,1366.2 L445.4,1366.2 L452.4,1373.2 L465.3,1373.2 M474.7,1366.2 L498.1,1366.2 L505.1,1359.2 L528.7,1359.2 M546.9,1366.2 L558.2,1366.2 L572.2,1380.2 L597.3,1380.2 M412.9,1373.2 L434.9,1373.2 L448.9,1359.2 L464.3,1359.2 M482.3,1373.2 L504.6,1373.2 L511.6,1366.2 L518.4,1366.2 M538.0,1373.2 L567.4,1373.2 L574.4,1366.2 M399.0,1380.2 L427.2,1380.2 L441.2,1394.2 L447.8,1394.2 M470.8,1380.2 L481.4,1380.2 L488.4,1387.2 L530.9,1387.2 M538.6,1380.2 L598.5,1380.2 L605.5,1373.2 M414.3,1387.2 L430.1,1387.2 L437.1,1394.2 L487.5,1394.2 M507.3,1387.2 L513.8,1387.2 L520.8,1380.2 L548.1,1380.2 M562.2,1387.2 L574.9,1387.2 L581.9,1394.2 M404.5,1394.2 L409.7,1394.2 L416.7,1387.2 L443.8,1387.2 M456.4,1394.2 L512.6,1394.2 L519.6,1387.2 L527.8,1387.2 M542.7,1394.2 L579.8,1394.2 L586.8,1401.2 L597.1,1401.2 M405.3,1401.2 L432.6,1401.2 L439.6,1394.2 L448.4,1394.2 M472.4,1401.2 L495.5,1401.2 L502.5,1408.2 L531.4,1408.2 M550.7,1401.2 L571.6,1401.2 L578.6,1408.2 L590.9,1408.2 M406.0,1408.2 L426.2,1408.2 L433.2,1401.2 L474.2,1401.2 M496.8,1408.2 L526.7,1408.2 L533.7,1401.2 L573.6,1401.2 M584.2,1408.2 L596.1,1408.2 M401.6,1415.2 L418.7,1415.2 L432.7,1401.2 L465.8,1401.2 M483.0,1415.2 L502.0,1415.2 L516.0,1401.2 L524.6,1401.2 M539.5,1415.2 L593.1,1415.2 L600.1,1422.2 M404.6,1422.2 L437.4,1422.2 L451.4,1408.2 L460.6,1408.2 M473.0,1422.2 L499.0,1422.2 L513.0,1436.2 L543.4,1436.2 M566.6,1422.2 L580.3,1422.2 L587.3,1415.2 M412.5,1429.2 L424.4,1429.2 L431.4,1422.2 L477.1,1422.2 M497.5,1429.2 L534.7,1429.2 L541.7,1436.2 L552.3,1436.2 M560.8,1429.2 L598.8,1429.2 L605.8,1436.2 M403.4,1436.2 L433.5,1436.2 L440.5,1443.2 L462.5,1443.2 M472.7,1436.2 L531.4,1436.2 L545.4,1422.2 L553.0,1422.2 M573.2,1436.2 L583.7,1436.2 L597.7,1450.2 M410.5,1443.2 L452.9,1443.2 L459.9,1450.2 L487.2,1450.2 M498.3,1443.2 L519.6,1443.2 L526.6,1436.2 L540.6,1436.2 M550.4,1443.2 L564.6,1443.2 L571.6,1436.2 L601.9,1436.2 M414.0,1450.2 L419.8,1450.2 L426.8,1443.2 L461.2,1443.2 M474.0,1450.2 L485.5,1450.2 L499.5,1436.2 L538.0,1436.2 M554.9,1450.2 L562.5,1450.2 L576.5,1464.2 L589.0,1464.2 M411.3,1457.2 L442.6,1457.2 L456.6,1443.2 L473.4,1443.2 M487.7,1457.2 L515.4,1457.2 L522.4,1450.2 L553.6,1450.2 M572.8,1457.2 L595.5,1457.2 L609.5,1471.2 M408.8,1464.2 L422.9,1464.2 L429.9,1457.2 L453.4,1457.2 M478.0,1464.2 L495.1,1464.2 L502.1,1457.2 L551.1,1457.2 M574.0,1464.2 L579.5,1464.2 L593.5,1450.2 M401.2,1471.2 L422.1,1471.2 L436.1,1457.2 L456.6,1457.2 M468.3,1471.2 L511.8,1471.2 L518.8,1464.2 L530.8,1464.2 M543.6,1471.2 L578.9,1471.2 L585.9,1478.2 L598.0,1478.2 M402.6,1478.2 L418.6,1478.2 L432.6,1492.2 L460.6,1492.2 M479.7,1478.2 L513.4,1478.2 L527.4,1464.2 L539.1,1464.2 M560.4,1478.2 L578.0,1478.2 L585.0,1485.2 L597.1,1485.2 M410.4,1485.2 L452.1,1485.2 M489.8,1485.2 L506.0,1485.2 L520.0,1471.2 L551.6,1471.2 M557.9,1485.2 L570.4,1485.2 L577.4,1492.2 L591.2,1492.2 M600.9,1485.2 L606.1,1485.2 M402.8,1492.2 L420.7,1492.2 L434.7,1478.2 L448.5,1478.2 M465.1,1492.2 L498.6,1492.2 M532.8,1492.2 L545.0,1492.2 M581.0,1492.2 L591.7,1492.2 L598.7,1485.2 M441.7,1340.2 L441.7,1364.4 M553.9,1348.6 L553.9,1374.2 M521.5,1057.3 L521.5,1074.4 M565.6,1409.0 L565.6,1420.1 M407.8,1062.3 L407.8,1074.7 M560.8,1148.2 L560.8,1185.9 M441.1,993.6 L441.1,1022.1 M560.2,1030.0 L560.2,1045.6 M480.4,1137.9 L480.4,1176.9 M535.1,1350.4 L535.1,1385.4 M489.3,1090.1 L489.3,1125.1 M550.0,1008.3 L550.0,1024.0 M551.7,925.9 L551.7,943.8 M452.7,1229.1 L452.7,1258.5" fill="none" stroke="#3e3e46" stroke-width="1.0" stroke-opacity="0.55"/>
<g fill="#2c2c31" stroke="#3e3e46" stroke-width="1.0" stroke-opacity="0.55"><circle cx="410.2" cy="701.2" r="1.8"/><circle cx="492.9" cy="701.2" r="1.8"/><circle cx="522.4" cy="701.2" r="1.8"/><circle cx="540.7" cy="715.2" r="1.8"/><circle cx="469.0" cy="708.2" r="1.8"/><circle cx="413.7" cy="715.2" r="1.8"/><circle cx="517.4" cy="722.2" r="1.8"/><circle cx="530.6" cy="715.2" r="1.8"/><circle cx="496.8" cy="736.2" r="1.8"/><circle cx="580.1" cy="729.2" r="1.8"/><circle cx="604.9" cy="715.2" r="1.8"/><circle cx="499.2" cy="736.2" r="1.8"/><circle cx="577.6" cy="715.2" r="1.8"/><circle cx="498.0" cy="743.2" r="1.8"/><circle cx="475.9" cy="750.2" r="1.8"/><circle cx="415.9" cy="757.2" r="1.8"/><circle cx="458.0" cy="750.2" r="1.8"/><circle cx="601.5" cy="778.2" r="1.8"/><circle cx="438.8" cy="778.2" r="1.8"/><circle cx="472.2" cy="785.2" r="1.8"/><circle cx="415.4" cy="778.2" r="1.8"/><circle cx="538.6" cy="771.2" r="1.8"/><circle cx="602.1" cy="771.2" r="1.8"/><circle cx="604.4" cy="778.2" r="1.8"/><circle cx="435.5" cy="778.2" r="1.8"/><circle cx="401.4" cy="792.2" r="1.8"/><circle cx="504.7" cy="799.2" r="1.8"/><circle cx="470.2" cy="792.2" r="1.8"/><circle cx="573.9" cy="813.2" r="1.8"/><circle cx="536.8" cy="799.2" r="1.8"/><circle cx="491.8" cy="813.2" r="1.8"/><circle cx="415.1" cy="806.2" r="1.8"/><circle cx="550.4" cy="792.2" r="1.8"/><circle cx="513.0" cy="806.2" r="1.8"/><circle cx="598.3" cy="799.2" r="1.8"/><circle cx="407.8" cy="813.2" r="1.8"/><circle cx="552.0" cy="806.2" r="1.8"/><circle cx="499.7" cy="813.2" r="1.8"/><circle cx="609.4" cy="806.2" r="1.8"/><circle cx="458.0" cy="820.2" r="1.8"/><circle cx="477.7" cy="834.2" r="1.8"/><circle cx="570.3" cy="841.2" r="1.8"/><circle cx="593.5" cy="820.2" r="1.8"/><circle cx="580.4" cy="827.2" r="1.8"/><circle cx="475.9" cy="841.2" r="1.8"/><circle cx="499.4" cy="834.2" r="1.8"/><circle cx="592.6" cy="841.2" r="1.8"/><circle cx="565.1" cy="834.2" r="1.8"/><circle cx="592.6" cy="834.2" r="1.8"/><circle cx="542.9" cy="841.2" r="1.8"/><circle cx="608.4" cy="841.2" r="1.8"/><circle cx="581.1" cy="841.2" r="1.8"/><circle cx="405.3" cy="855.2" r="1.8"/><circle cx="464.6" cy="848.2" r="1.8"/><circle cx="458.8" cy="848.2" r="1.8"/><circle cx="594.8" cy="848.2" r="1.8"/><circle cx="447.9" cy="855.2" r="1.8"/><circle cx="412.9" cy="869.2" r="1.8"/><circle cx="444.6" cy="897.2" r="1.8"/><circle cx="449.3" cy="890.2" r="1.8"/><circle cx="605.4" cy="904.2" r="1.8"/><circle cx="426.4" cy="911.2" r="1.8"/><circle cx="410.9" cy="904.2" r="1.8"/><circle cx="425.7" cy="904.2" r="1.8"/><circle cx="599.7" cy="911.2" r="1.8"/><circle cx="421.4" cy="925.2" r="1.8"/><circle cx="604.7" cy="911.2" r="1.8"/><circle cx="577.0" cy="918.2" r="1.8"/><circle cx="449.0" cy="918.2" r="1.8"/><circle cx="411.4" cy="932.2" r="1.8"/><circle cx="608.9" cy="932.2" r="1.8"/><circle cx="563.7" cy="939.2" r="1.8"/><circle cx="459.6" cy="960.2" r="1.8"/><circle cx="589.3" cy="946.2" r="1.8"/><circle cx="555.6" cy="953.2" r="1.8"/><circle cx="455.7" cy="953.2" r="1.8"/><circle cx="446.3" cy="953.2" r="1.8"/><circle cx="407.1" cy="974.2" r="1.8"/><circle cx="593.3" cy="967.2" r="1.8"/><circle cx="592.1" cy="988.2" r="1.8"/><circle cx="447.2" cy="981.2" r="1.8"/><circle cx="458.4" cy="988.2" r="1.8"/><circle cx="596.0" cy="995.2" r="1.8"/><circle cx="473.9" cy="981.2" r="1.8"/><circle cx="535.7" cy="988.2" r="1.8"/><circle cx="548.8" cy="995.2" r="1.8"/><circle cx="600.6" cy="995.2" r="1.8"/><circle cx="441.4" cy="995.2" r="1.8"/><circle cx="477.3" cy="988.2" r="1.8"/><circle cx="482.1" cy="995.2" r="1.8"/><circle cx="551.6" cy="1023.2" r="1.8"/><circle cx="603.4" cy="995.2" r="1.8"/><circle cx="566.3" cy="1009.2" r="1.8"/><circle cx="439.3" cy="1023.2" r="1.8"/><circle cx="405.2" cy="1016.2" r="1.8"/><circle cx="487.3" cy="1023.2" r="1.8"/><circle cx="570.2" cy="1002.2" r="1.8"/><circle cx="506.6" cy="1016.2" r="1.8"/><circle cx="544.7" cy="1016.2" r="1.8"/><circle cx="541.2" cy="1044.2" r="1.8"/><circle cx="474.4" cy="1030.2" r="1.8"/><circle cx="584.9" cy="1037.2" r="1.8"/><circle cx="609.7" cy="1037.2" r="1.8"/><circle cx="486.6" cy="1030.2" r="1.8"/><circle cx="546.4" cy="1051.2" r="1.8"/><circle cx="586.8" cy="1037.2" r="1.8"/><circle cx="558.8" cy="1044.2" r="1.8"/><circle cx="487.2" cy="1058.2" r="1.8"/><circle cx="443.4" cy="1065.2" r="1.8"/><circle cx="562.6" cy="1065.2" r="1.8"/><circle cx="596.7" cy="1065.2" r="1.8"/><circle cx="401.4" cy="1065.2" r="1.8"/><circle cx="486.2" cy="1079.2" r="1.8"/><circle cx="557.2" cy="1079.2" r="1.8"/><circle cx="467.1" cy="1079.2" r="1.8"/><circle cx="552.8" cy="1058.2" r="1.8"/><circle cx="536.1" cy="1086.2" r="1.8"/><circle cx="484.9" cy="1079.2" r="1.8"/><circle cx="585.8" cy="1065.2" r="1.8"/><circle cx="465.2" cy="1093.2" r="1.8"/><circle cx="405.9" cy="1086.2" r="1.8"/><circle cx="590.7" cy="1079.2" r="1.8"/><circle cx="563.3" cy="1086.2" r="1.8"/><circle cx="594.2" cy="1107.2" r="1.8"/><circle cx="529.4" cy="1093.2" r="1.8"/><circle cx="446.3" cy="1093.2" r="1.8"/><circle cx="578.7" cy="1107.2" r="1.8"/><circle cx="473.5" cy="1121.2" r="1.8"/><circle cx="484.2" cy="1107.2" r="1.8"/><circle cx="601.3" cy="1093.2" r="1.8"/><circle cx="570.4" cy="1107.2" r="1.8"/><circle cx="499.5" cy="1121.2" r="1.8"/><circle cx="565.8" cy="1121.2" r="1.8"/><circle cx="599.1" cy="1114.2" r="1.8"/><circle cx="467.7" cy="1128.2" r="1.8"/><circle cx="546.9" cy="1121.2" r="1.8"/><circle cx="573.5" cy="1121.2" r="1.8"/><circle cx="481.9" cy="1121.2" r="1.8"/><circle cx="568.0" cy="1149.2" r="1.8"/><circle cx="605.5" cy="1142.2" r="1.8"/><circle cx="584.9" cy="1135.2" r="1.8"/><circle cx="466.0" cy="1135.2" r="1.8"/><circle cx="399.7" cy="1142.2" r="1.8"/><circle cx="593.3" cy="1149.2" r="1.8"/><circle cx="479.1" cy="1163.2" r="1.8"/><circle cx="416.9" cy="1149.2" r="1.8"/><circle cx="568.9" cy="1142.2" r="1.8"/><circle cx="607.9" cy="1142.2" r="1.8"/><circle cx="468.6" cy="1163.2" r="1.8"/><circle cx="543.0" cy="1142.2" r="1.8"/><circle cx="558.8" cy="1156.2" r="1.8"/><circle cx="461.6" cy="1170.2" r="1.8"/><circle cx="544.4" cy="1170.2" r="1.8"/><circle cx="589.5" cy="1170.2" r="1.8"/><circle cx="551.3" cy="1163.2" r="1.8"/><circle cx="537.5" cy="1177.2" r="1.8"/><circle cx="465.8" cy="1170.2" r="1.8"/><circle cx="589.3" cy="1170.2" r="1.8"/><circle cx="438.6" cy="1170.2" r="1.8"/><circle cx="411.4" cy="1177.2" r="1.8"/><circle cx="543.7" cy="1184.2" r="1.8"/><circle cx="503.3" cy="1177.2" r="1.8"/><circle cx="599.2" cy="1184.2" r="1.8"/><circle cx="560.8" cy="1177.2" r="1.8"/><circle cx="450.6" cy="1177.2" r="1.8"/><circle cx="540.6" cy="1198.2" r="1.8"/><circle cx="484.3" cy="1177.2" r="1.8"/><circle cx="566.4" cy="1198.2" r="1.8"/><circle cx="604.7" cy="1184.2" r="1.8"/><circle cx="500.1" cy="1205.2" r="1.8"/><circle cx="573.4" cy="1212.2" r="1.8"/><circle cx="601.2" cy="1205.2" r="1.8"/><circle cx="587.0" cy="1198.2" r="1.8"/><circle cx="504.9" cy="1205.2" r="1.8"/><circle cx="460.0" cy="1205.2" r="1.8"/><circle cx="534.5" cy="1205.2" r="1.8"/><circle cx="601.3" cy="1205.2" r="1.8"/><circle cx="553.7" cy="1212.2" r="1.8"/><circle cx="472.8" cy="1233.2" r="1.8"/><circle cx="399.4" cy="1219.2" r="1.8"/><circle cx="564.1" cy="1219.2" r="1.8"/><circle cx="437.3" cy="1233.2" r="1.8"/><circle cx="477.2" cy="1219.2" r="1.8"/><circle cx="554.1" cy="1226.2" r="1.8"/><circle cx="412.8" cy="1233.2" r="1.8"/><circle cx="608.3" cy="1233.2" r="1.8"/><circle cx="449.7" cy="1247.2" r="1.8"/><circle cx="592.1" cy="1247.2" r="1.8"/><circle cx="531.4" cy="1240.2" r="1.8"/><circle cx="442.0" cy="1254.2" r="1.8"/><circle cx="563.4" cy="1240.2" r="1.8"/><circle cx="584.2" cy="1247.2" r="1.8"/><circle cx="558.1" cy="1247.2" r="1.8"/><circle cx="596.3" cy="1261.2" r="1.8"/><circle cx="571.2" cy="1254.2" r="1.8"/><circle cx="455.1" cy="1261.2" r="1.8"/><circle cx="579.0" cy="1261.2" r="1.8"/><circle cx="603.5" cy="1268.2" r="1.8"/><circle cx="466.7" cy="1268.2" r="1.8"/><circle cx="410.2" cy="1275.2" r="1.8"/><circle cx="602.3" cy="1261.2" r="1.8"/><circle cx="494.6" cy="1268.2" r="1.8"/><circle cx="411.4" cy="1282.2" r="1.8"/><circle cx="570.3" cy="1296.2" r="1.8"/><circle cx="487.0" cy="1275.2" r="1.8"/><circle cx="540.0" cy="1296.2" r="1.8"/><circle cx="445.6" cy="1289.2" r="1.8"/><circle cx="415.3" cy="1296.2" r="1.8"/><circle cx="466.0" cy="1296.2" r="1.8"/><circle cx="604.1" cy="1310.2" r="1.8"/><circle cx="482.5" cy="1317.2" r="1.8"/><circle cx="492.8" cy="1303.2" r="1.8"/><circle cx="465.1" cy="1303.2" r="1.8"/><circle cx="404.9" cy="1310.2" r="1.8"/><circle cx="503.2" cy="1303.2" r="1.8"/><circle cx="590.4" cy="1296.2" r="1.8"/><circle cx="605.9" cy="1310.2" r="1.8"/><circle cx="406.0" cy="1317.2" r="1.8"/><circle cx="534.9" cy="1324.2" r="1.8"/><circle cx="549.5" cy="1317.2" r="1.8"/><circle cx="428.2" cy="1317.2" r="1.8"/><circle cx="577.6" cy="1331.2" r="1.8"/><circle cx="601.4" cy="1324.2" r="1.8"/><circle cx="438.0" cy="1338.2" r="1.8"/><circle cx="410.3" cy="1331.2" r="1.8"/><circle cx="531.9" cy="1338.2" r="1.8"/><circle cx="511.1" cy="1352.2" r="1.8"/><circle cx="574.6" cy="1359.2" r="1.8"/><circle cx="471.6" cy="1352.2" r="1.8"/><circle cx="599.3" cy="1345.2" r="1.8"/><circle cx="528.3" cy="1366.2" r="1.8"/><circle cx="585.2" cy="1366.2" r="1.8"/><circle cx="602.4" cy="1359.2" r="1.8"/><circle cx="528.7" cy="1359.2" r="1.8"/><circle cx="597.3" cy="1380.2" r="1.8"/><circle cx="546.9" cy="1366.2" r="1.8"/><circle cx="518.4" cy="1366.2" r="1.8"/><circle cx="574.4" cy="1366.2" r="1.8"/><circle cx="470.8" cy="1380.2" r="1.8"/><circle cx="605.5" cy="1373.2" r="1.8"/><circle cx="487.5" cy="1394.2" r="1.8"/><circle cx="548.1" cy="1380.2" r="1.8"/><circle cx="562.2" cy="1387.2" r="1.8"/><circle cx="597.1" cy="1401.2" r="1.8"/><circle cx="448.4" cy="1394.2" r="1.8"/><circle cx="405.3" cy="1401.2" r="1.8"/><circle cx="531.4" cy="1408.2" r="1.8"/><circle cx="474.2" cy="1401.2" r="1.8"/><circle cx="406.0" cy="1408.2" r="1.8"/><circle cx="596.1" cy="1408.2" r="1.8"/><circle cx="465.8" cy="1401.2" r="1.8"/><circle cx="483.0" cy="1415.2" r="1.8"/><circle cx="539.5" cy="1415.2" r="1.8"/><circle cx="460.6" cy="1408.2" r="1.8"/><circle cx="404.6" cy="1422.2" r="1.8"/><circle cx="587.3" cy="1415.2" r="1.8"/><circle cx="477.1" cy="1422.2" r="1.8"/><circle cx="552.3" cy="1436.2" r="1.8"/><circle cx="462.5" cy="1443.2" r="1.8"/><circle cx="487.2" cy="1450.2" r="1.8"/><circle cx="550.4" cy="1443.2" r="1.8"/><circle cx="589.0" cy="1464.2" r="1.8"/><circle cx="554.9" cy="1450.2" r="1.8"/><circle cx="411.3" cy="1457.2" r="1.8"/><circle cx="609.5" cy="1471.2" r="1.8"/><circle cx="453.4" cy="1457.2" r="1.8"/><circle cx="551.1" cy="1457.2" r="1.8"/><circle cx="593.5" cy="1450.2" r="1.8"/><circle cx="456.6" cy="1457.2" r="1.8"/><circle cx="401.2" cy="1471.2" r="1.8"/><circle cx="530.8" cy="1464.2" r="1.8"/><circle cx="551.6" cy="1471.2" r="1.8"/><circle cx="606.1" cy="1485.2" r="1.8"/><circle cx="600.9" cy="1485.2" r="1.8"/><circle cx="498.6" cy="1492.2" r="1.8"/><circle cx="465.1" cy="1492.2" r="1.8"/><circle cx="441.7" cy="1364.4" r="1.8"/><circle cx="553.9" cy="1374.2" r="1.8"/><circle cx="521.5" cy="1074.4" r="1.8"/><circle cx="565.6" cy="1420.1" r="1.8"/><circle cx="407.8" cy="1074.7" r="1.8"/><circle cx="560.8" cy="1185.9" r="1.8"/><circle cx="441.1" cy="1022.1" r="1.8"/><circle cx="560.2" cy="1045.6" r="1.8"/><circle cx="480.4" cy="1176.9" r="1.8"/><circle cx="535.1" cy="1385.4" r="1.8"/><circle cx="489.3" cy="1125.1" r="1.8"/><circle cx="550.0" cy="1024.0" r="1.8"/><circle cx="551.7" cy="943.8" r="1.8"/><circle cx="452.7" cy="1258.5" r="1.8"/></g>

<ellipse cx="530" cy="718" rx="28" ry="26" fill="#000" opacity="0.35" filter="url(#blur5)"/>
<ellipse cx="540" cy="880" rx="22" ry="60" fill="#000" opacity="0.18" filter="url(#blur5)"/>
<!-- part seen through cover: lighter -->
<rect x="567" y="690" width="50" height="810" fill="#5a5a62" opacity="0.45"/>
</g>
<!-- blue edges main pcb -->
<path d="M556,703 L556,737" stroke="#4a66d0" stroke-width="2.5"/>
<path d="M579,739 L608,778 L609,928 C609,938 603,945 595,947" fill="none" stroke="#4a6ad8" stroke-width="2.5"/>
<path d="M611,1118 L611,1390 C600,1395 594,1410 594,1430 C594,1450 600,1462 611,1466 L611,1500" fill="none" stroke="#4a6ad8" stroke-width="2.5"/>
<ellipse cx="598" cy="790" rx="3.5" ry="7" fill="#1a1a22" stroke="#4a6ad8" stroke-width="2"/>
<!-- hole -->
<ellipse cx="500" cy="915" rx="37" ry="72" fill="#f6f0e7"/>
<g clip-path="url(#holeclip)">
<path d="M493,830 L493,918 C497,926 511,934 511,955 C511,970 507,981 500,990 L560,1000 L560,830 Z" fill="#222226"/>
<path d="M497,846 C515,852 531,875 534,915" fill="none" stroke="#242428" stroke-width="3"/>
<path d="M470,980 C485,992 510,992 525,975" fill="none" stroke="#3050c0" stroke-width="2"/>
</g>
<!-- left notch holes -->
<path d="M397,777 A7,7 0 0 1 397,791 Z" fill="#f6f0e7"/>
<path d="M425,1009 A5,8 0 0 0 425,1025 Z" fill="#f6f0e7"/>
<path d="M425,1034 A5,8 0 0 0 425,1050 Z" fill="#f6f0e7"/>
<ellipse cx="437.5" cy="1023" rx="2.5" ry="4" fill="#141416"/>
<ellipse cx="451" cy="1023" rx="2.5" ry="4" fill="#141416"/>
<ellipse cx="445" cy="1046" rx="2.5" ry="4" fill="#141416"/>

<!-- components -->
<rect x="468" y="702" width="37" height="42" rx="5" fill="#36363a" stroke="#1e1e22" stroke-width="1.5"/>
<ellipse cx="487" cy="722" rx="6" ry="9" fill="#1e1e22"/>
<ellipse cx="486" cy="722" rx="3" ry="6" fill="#2c2c30"/>
<rect x="480" y="745" width="15" height="18" rx="2" fill="#333337" stroke="#232326"/>
<rect x="406" y="764" width="31" height="31" rx="3" fill="#1a1a1d"/>
<rect x="406" y="764" width="14" height="31" rx="3" fill="#26262a"/>
<rect x="437" y="771" width="60" height="5" fill="#1a1a1e"/>
<rect x="437" y="783" width="60" height="5" fill="#1a1a1e"/>
<rect x="493" y="769" width="10" height="22" fill="#202024"/>
<rect x="505" y="763" width="32" height="54" rx="2" fill="#1a1a1e"/>
<rect x="506" y="764" width="26" height="46" rx="3" fill="#2c2c30"/>
<rect x="532" y="768" width="4" height="42" fill="#3a3a40"/>
<rect x="406" y="834" width="31" height="31" rx="3" fill="#1a1a1d"/>
<rect x="408" y="838" width="10" height="22" fill="#26262a"/>
<rect x="406" y="900" width="31" height="33" rx="3" fill="#1a1a1d"/>
<rect x="406" y="900" width="12" height="33" rx="3" fill="#26262a"/>
<rect x="464" y="1019" width="74" height="76" rx="2" fill="#121214" filter="url(#blur2)"/>
<rect x="461" y="1017" width="70" height="75" rx="1.5" fill="#2a2a2e"/>
<rect x="474" y="1027" width="43" height="59" fill="#252528" stroke="#1a1a1c" stroke-width="1.2"/>
<line x1="462" y1="1016" x2="530" y2="1016" stroke="#6a6a70" stroke-width="2" stroke-dasharray="1.2 0.8"/>
<line x1="461" y1="1018.5" x2="531" y2="1018.5" stroke="#44444a" stroke-width="1"/>
<ellipse cx="468" cy="1073" rx="2" ry="3.5" fill="#18181a"/>
<!-- right-side connector seen through cover -->
<rect x="566" y="848" width="26" height="51" fill="#505057"/>
<rect x="566" y="848" width="26" height="2" fill="#9a9aa0"/>
<rect x="566" y="848" width="1.5" height="51" fill="#8a8a90"/>
<rect x="592" y="848" width="15" height="51" fill="#1c1c20"/>
<g fill="#4a4a50"><rect x="596" y="856" width="6" height="4"/><rect x="596" y="868" width="6" height="4"/><rect x="596" y="880" width="6" height="4"/><rect x="596" y="891" width="6" height="4"/></g>
<!-- small components column -->
<g fill="#1a1a1e">
<rect x="550" y="797" width="4" height="42"/>
<rect x="548" y="855" width="6" height="4"/><rect x="548" y="865" width="6" height="4"/><rect x="548" y="875" width="6" height="4"/>
<rect x="548" y="930" width="8" height="6"/><rect x="548" y="940" width="8" height="6"/><rect x="548" y="950" width="8" height="6"/>
<rect x="552" y="965" width="7" height="12"/><rect x="552" y="982" width="7" height="12"/><rect x="552" y="998" width="7" height="12"/>
<rect x="548" y="1013" width="10" height="8"/><rect x="548" y="1026" width="10" height="8"/>
<rect x="433" y="780" width="4" height="4"/>
<rect x="440" y="868" width="3" height="7"/><rect x="445" y="868" width="3" height="7"/>
<rect x="445" y="860" width="14" height="4"/><rect x="445" y="882" width="14" height="4"/>
<rect x="440" y="942" width="10" height="4"/><rect x="440" y="950" width="10" height="4"/>
<rect x="440" y="980" width="3" height="4"/><rect x="440" y="990" width="3" height="4"/>
</g>

<!-- ===== radar PCB ===== -->
<rect x="415" y="1120" width="148" height="233" rx="3" fill="#1e2036"/>
<g clip-path="url(#radclip)">
<path d="M472,1121 L472,1132 M478.5,1121 L478.5,1132 M485,1121 L485,1132 M491,1121 L491,1132 M497,1121 L497,1132 M503,1121 L503,1132 M466,1143 L452,1143 L444,1151 L422,1151 M466,1155 L450,1155 L442,1163 L420,1163 M466,1167 L448,1167 L440,1175 L418,1175 M466,1179 L446,1179 L438,1187 L416,1187 M466,1191 L444,1191 L436,1199 L414,1199 M510,1146 L525,1146 L531,1140 M510,1157.5 L528,1157.5 L534,1151.5 M510,1169.5 L531,1169.5 L537,1163.5 M510,1182 L534,1182 L540,1176 M510,1193.5 L537,1193.5 L543,1187.5 M466,1217 L466,1228 L460,1234 M472.5,1217 L472.5,1228 L466.5,1234 M479,1217 L479,1228 L473,1234 M485,1217 L485,1228 L479,1234 M491.5,1217 L491.5,1228 L485.5,1234 M497.5,1217 L497.5,1228 L491.5,1234 M504,1217 L504,1228 L498,1234 M510,1217 L510,1228 L504,1234 M428,1140 L440,1140 L446,1146 L456,1146 M434,1151 L448,1151" fill="none" stroke="#8a92d0" stroke-width="1.1" stroke-opacity="0.9"/>
<g fill="#1e2036" stroke="#a8b0ec" stroke-width="1.2"><circle cx="472" cy="1133" r="2.4"/><circle cx="478.5" cy="1133" r="2.4"/><circle cx="485" cy="1133" r="2.4"/><circle cx="491" cy="1133" r="2.4"/><circle cx="497" cy="1133" r="2.4"/><circle cx="503" cy="1133" r="2.4"/><circle cx="466" cy="1143" r="2.4"/><circle cx="466" cy="1155" r="2.4"/><circle cx="466" cy="1167" r="2.4"/><circle cx="466" cy="1179" r="2.4"/><circle cx="466" cy="1191" r="2.4"/><circle cx="510" cy="1146" r="2.4"/><circle cx="510" cy="1157.5" r="2.4"/><circle cx="510" cy="1169.5" r="2.4"/><circle cx="510" cy="1182" r="2.4"/><circle cx="510" cy="1193.5" r="2.4"/><circle cx="523" cy="1153" r="2.4"/><circle cx="523" cy="1163" r="2.4"/><circle cx="533" cy="1146" r="2.4"/><circle cx="466" cy="1217" r="2.4"/><circle cx="472.5" cy="1217" r="2.4"/><circle cx="479" cy="1217" r="2.4"/><circle cx="485" cy="1217" r="2.4"/><circle cx="491.5" cy="1217" r="2.4"/><circle cx="497.5" cy="1217" r="2.4"/><circle cx="504" cy="1217" r="2.4"/><circle cx="510" cy="1217" r="2.4"/><circle cx="428" cy="1140" r="2.4"/><circle cx="434" cy="1151" r="2.4"/><circle cx="442" cy="1157" r="2.4"/><circle cx="455" cy="1140" r="2.4"/><circle cx="449" cy="1162" r="2.4"/></g>
<path d="M466,1200 C460,1203 460,1212 466,1215" fill="none" stroke="#4a78ff" stroke-width="2.5"/>
<path d="M514,1202 C508,1205 508,1214 514,1217" fill="none" stroke="#4a78ff" stroke-width="2.5"/>
<path d="M417.4,1130.4 L432.6,1130.4 M527.4,1143.4 L534.8,1143.4 L547.8,1130.4 M529.0,1149.9 L549.6,1149.9 M426.7,1195.4 L451.6,1195.4 M543.1,1201.9 L552.9,1201.9 L559.4,1208.4 M428.2,1208.4 L449.7,1208.4 L456.2,1214.9 M422.0,1214.9 L431.1,1214.9 L437.6,1208.4 M533.1,1214.9 L541.2,1214.9 L547.7,1208.4 M430.6,1227.9 L448.0,1227.9 L461.0,1240.9 L474.8,1240.9 M553.7,1227.9 L559.5,1227.9 M420.8,1234.4 L427.6,1234.4 L440.6,1247.4 L474.1,1247.4 M548.4,1234.4 L554.0,1234.4 L560.5,1240.9 M433.5,1240.9 L477.6,1240.9 L484.1,1247.4 L509.1,1247.4 M519.9,1240.9 L537.6,1240.9 L550.6,1253.9 M419.6,1247.4 L469.1,1247.4 L482.1,1260.4 L501.8,1260.4 M432.3,1253.9 L452.7,1253.9 L459.2,1260.4 L498.0,1260.4 M509.6,1253.9 L515.5,1253.9 L522.0,1247.4 M433.6,1260.4 L445.1,1260.4 L451.6,1253.9 L508.6,1253.9 M532.4,1260.4 L540.5,1260.4 L553.5,1273.4 M430.2,1266.9 L446.3,1266.9 L452.8,1260.4 L460.2,1260.4 M471.2,1266.9 L510.0,1266.9 L516.5,1273.4 L544.0,1273.4 M419.5,1273.4 L442.1,1273.4 L448.6,1279.9 L485.9,1279.9 M504.6,1273.4 L543.4,1273.4 L549.9,1266.9 L561.7,1266.9 M518.7,1286.4 L546.0,1286.4 L552.5,1279.9 M431.3,1292.9 L451.4,1292.9 L457.9,1286.4 L474.5,1286.4 M492.6,1292.9 L519.1,1292.9 L525.6,1286.4 L557.1,1286.4 M431.0,1299.4 L438.5,1299.4 L445.0,1305.9 L474.4,1305.9 M554.9,1299.4 L560.6,1299.4 M426.5,1305.9 L466.0,1305.9 L479.0,1318.9 L485.7,1318.9 M498.1,1305.9 L503.3,1305.9 L509.8,1312.4 L532.3,1312.4 M423.6,1312.4 L474.1,1312.4 L487.1,1299.4 L501.3,1299.4 M511.1,1312.4 L519.7,1312.4 L526.2,1305.9 L548.3,1305.9 M426.8,1318.9 L465.3,1318.9 L478.3,1305.9 L489.2,1305.9 M550.2,1318.9 L555.5,1318.9 M427.8,1325.4 L472.4,1325.4 L485.4,1312.4 L490.7,1312.4 M512.4,1325.4 L541.1,1325.4 L547.6,1318.9 M424.8,1338.4 L435.6,1338.4 L442.1,1331.9 L490.8,1331.9 M418.5,1344.9 L427.2,1344.9 L440.2,1331.9 L460.4,1331.9 M469.8,1344.9 L481.7,1344.9 M532.5,1133.1 L532.5,1144.5 M506.5,1293.1 L506.5,1303.1 M423.6,1274.1 L423.6,1312.8 M495.8,1256.6 L495.8,1291.6 M537.1,1287.1 L537.1,1311.7 M431.3,1282.1 L431.3,1317.4" fill="none" stroke="#5c6298" stroke-width="1.1" stroke-opacity="0.9"/>
<path d="M524.8,1123.9 L543.2,1123.9 M537.6,1130.4 L549.6,1130.4 M522.1,1169.4 L544.9,1169.4 L557.9,1156.4 M511.7,1221.4 L517.1,1221.4 L523.6,1227.9 L543.3,1227.9 M520.8,1247.4 L549.1,1247.4 M427.5,1279.9 L468.6,1279.9 L481.6,1292.9 L509.3,1292.9 M527.6,1279.9 L552.6,1279.9 L559.1,1273.4 M434.1,1286.4 L446.2,1286.4 L452.7,1292.9 L506.4,1292.9 M487.6,1299.4 L493.3,1299.4 L499.8,1292.9 L546.2,1292.9 M551.9,1305.9 L557.3,1305.9 M497.4,1318.9 L503.9,1318.9 L510.4,1312.4 L527.0,1312.4 M424.9,1331.9 L448.9,1331.9 L461.9,1318.9 L469.4,1318.9 M477.5,1331.9 L517.4,1331.9 L523.9,1325.4 L553.5,1325.4 M510.8,1338.4 L522.1,1338.4 L528.6,1331.9 L550.9,1331.9 M512.3,1344.9 L527.5,1344.9 L534.0,1338.4" fill="none" stroke="#9098d8" stroke-width="1.1" stroke-opacity="0.9"/>
<g fill="#1c1e30" stroke="#9098d8" stroke-width="1.1" stroke-opacity="0.9"><circle cx="543.2" cy="1123.9" r="2.3"/><circle cx="524.8" cy="1123.9" r="2.3"/><circle cx="547.8" cy="1130.4" r="2.3"/><circle cx="549.6" cy="1149.9" r="2.3"/><circle cx="529.0" cy="1149.9" r="2.3"/><circle cx="557.9" cy="1156.4" r="2.3"/><circle cx="451.6" cy="1195.4" r="2.3"/><circle cx="543.1" cy="1201.9" r="2.3"/><circle cx="456.2" cy="1214.9" r="2.3"/><circle cx="437.6" cy="1208.4" r="2.3"/><circle cx="547.7" cy="1208.4" r="2.3"/><circle cx="543.3" cy="1227.9" r="2.3"/><circle cx="509.1" cy="1247.4" r="2.3"/><circle cx="549.1" cy="1247.4" r="2.3"/><circle cx="520.8" cy="1247.4" r="2.3"/><circle cx="498.0" cy="1260.4" r="2.3"/><circle cx="508.6" cy="1253.9" r="2.3"/><circle cx="532.4" cy="1260.4" r="2.3"/><circle cx="485.9" cy="1279.9" r="2.3"/><circle cx="504.6" cy="1273.4" r="2.3"/><circle cx="509.3" cy="1292.9" r="2.3"/><circle cx="552.5" cy="1279.9" r="2.3"/><circle cx="518.7" cy="1286.4" r="2.3"/><circle cx="474.5" cy="1286.4" r="2.3"/><circle cx="557.1" cy="1286.4" r="2.3"/><circle cx="474.4" cy="1305.9" r="2.3"/><circle cx="554.9" cy="1299.4" r="2.3"/><circle cx="557.3" cy="1305.9" r="2.3"/><circle cx="501.3" cy="1299.4" r="2.3"/><circle cx="489.2" cy="1305.9" r="2.3"/><circle cx="527.0" cy="1312.4" r="2.3"/><circle cx="497.4" cy="1318.9" r="2.3"/><circle cx="555.5" cy="1318.9" r="2.3"/><circle cx="553.5" cy="1325.4" r="2.3"/><circle cx="477.5" cy="1331.9" r="2.3"/><circle cx="424.8" cy="1338.4" r="2.3"/><circle cx="460.4" cy="1331.9" r="2.3"/><circle cx="418.5" cy="1344.9" r="2.3"/><circle cx="481.7" cy="1344.9" r="2.3"/><circle cx="534.0" cy="1338.4" r="2.3"/><circle cx="512.3" cy="1344.9" r="2.3"/><circle cx="532.5" cy="1144.5" r="2.3"/><circle cx="506.5" cy="1303.1" r="2.3"/><circle cx="423.6" cy="1312.8" r="2.3"/><circle cx="495.8" cy="1291.6" r="2.3"/><circle cx="537.1" cy="1311.7" r="2.3"/><circle cx="431.3" cy="1317.4" r="2.3"/></g>

</g>
<rect x="558" y="1125" width="4" height="225" fill="#7a9af0" opacity="0.85"/>
<!-- top notches glow -->
<g fill="none" stroke="#9ab8ff" stroke-width="2.5" opacity="0.9">
<path d="M425,1122 C425,1130 427,1134 430,1136"/>
<path d="M443,1122 C443,1130 445,1134 448,1136"/>
<path d="M460,1122 C460,1130 462,1134 465,1136"/>
<path d="M511,1125 C511,1132 513,1136 516,1138"/>
<path d="M528,1125 C528,1132 530,1136 533,1138"/>
<path d="M546,1125 C546,1132 548,1136 551,1138"/>
</g>
<g fill="none" stroke="#c0d8ff" stroke-width="2.5">
<path d="M558,1208 C553,1212 553,1220 558,1224"/>
<path d="M558,1245 C553,1249 553,1257 558,1261"/>
<path d="M558,1282 C553,1286 553,1294 558,1298"/>
<path d="M558,1317 C553,1321 553,1329 558,1333"/>
</g>
<!-- radar sensor -->
<ellipse cx="492" cy="1173" rx="18" ry="34" fill="#2060ff" opacity="0.6" filter="url(#blur5)"/>
<ellipse cx="490" cy="1173" rx="15" ry="29" fill="none" stroke="#1a48ff" stroke-width="7"/>
<ellipse cx="489" cy="1173" rx="12" ry="25" fill="none" stroke="#48c8ff" stroke-width="3.5"/>
<ellipse cx="479" cy="1173" rx="13" ry="23" fill="#d8d0c2"/>
<ellipse cx="479" cy="1173" rx="13" ry="23" fill="none" stroke="#b0a898" stroke-width="1"/>
<ellipse cx="478" cy="1173" rx="6.5" ry="12" fill="#161618"/>
<ellipse cx="476" cy="1168" rx="2" ry="4" fill="#5a5a60" opacity="0.7"/>
<!-- side pins -->
<rect x="388" y="1194" width="28" height="17" rx="8" fill="#141416"/>
<rect x="388" y="1216" width="28" height="17" rx="8" fill="#141416"/>
<!-- left side connectors on main pcb -->
<rect x="403" y="1250" width="8" height="38" rx="1" fill="#141416" stroke="#3a3a40"/>
<rect x="402" y="1300" width="10" height="30" fill="#1e1e22" stroke="#3a3a40"/>
<g fill="#141416">
<rect x="403" y="1140" width="8" height="9"/><rect x="403" y="1152" width="8" height="9"/>
</g>

<!-- ===== speaker ===== -->
<path d="M402,1500 C404,1468 412,1440 425,1420 C438,1402 455,1392 483,1386 L486,1364 C488,1359 492,1357 497,1357 L517,1362 C522,1364 526,1368 526,1374 L527,1408 C545,1425 560,1455 566,1500 Z" fill="#1e1e22" stroke="#46464e" stroke-width="1.5"/>
<path d="M411,1500 C413,1470 421,1447 433,1430 C447,1412 463,1402 490,1398 L494,1372 L518,1377 L518,1412 C538,1428 552,1460 557,1500 Z" fill="#202024" stroke="#111113" stroke-width="2"/>
<path d="M422,1500 C425,1470 440,1440 462,1425 C480,1414 505,1414 522,1425 C540,1440 550,1470 552,1500 Z" fill="#19191c"/>
<ellipse cx="490" cy="1548" rx="52" ry="114" fill="url(#spk)" stroke="#111113" stroke-width="5"/>
<path d="M444,1474 C455,1450 470,1437 488,1434 C498,1433 506,1435 512,1439" fill="none" stroke="#9a9aa2" stroke-width="3.5"/>
<path d="M512,1439 C524,1447 534,1460 540,1478" fill="none" stroke="#4c4c54" stroke-width="2.5"/>
<ellipse cx="432" cy="1410" rx="4" ry="7" fill="#f6f0e7"/>

<!-- ===== cover (transparent) ===== -->
<rect x="567" y="530" width="12" height="970" fill="#ffffff" opacity="0.1"/>
<line x1="568" y1="530" x2="568" y2="1500" stroke="#ffffff" stroke-opacity="0.35" stroke-width="1.5"/>
<line x1="577" y1="530" x2="577" y2="1500" stroke="#ffffff" stroke-opacity="0.3" stroke-width="1.5"/>
<path d="M572,530 C572,502 582,487 602,473 L720,400" fill="none" stroke="#ffffff" stroke-opacity="0.08" stroke-width="10"/>
<path d="M568,530 C568,500 578,483 598,470 L714,398" fill="none" stroke="#d8d8e0" stroke-opacity="0.6" stroke-width="1.5"/>
<path d="M577,530 C577,506 586,492 606,479 L724,404" fill="none" stroke="#d8d8e0" stroke-opacity="0.5" stroke-width="1.5"/>
<path d="M714,398 C722,393 728,392 736,392" fill="none" stroke="#c8c8c8" stroke-width="2"/>

<!-- ===== shell outline ===== -->
<path d="M352,1500 L352,505 C352,485 360,472 378,463 L523,391 C527,389 530,390 535,390 L735,391 C752,394 765,430 771,487 C775,530 779,600 781.5,700 L781.5,1500" fill="none" stroke="#7c7a77" stroke-width="2.4"/>
<path d="M358,1500 L358,507 C358,490 365,480 381,472 L524,399 L735,398" fill="none" stroke="#dddbd8" stroke-width="5"/>
<line x1="362" y1="505" x2="362" y2="1500" stroke="#c4c2be" stroke-width="1"/>
<path d="M735,395 C749,398 761,432 767,487 C771,530 775,600 777.5,700 L777.5,1500" fill="none" stroke="#a4a2a0" stroke-width="1.3"/>
<line x1="820" y1="450" x2="822" y2="1500" stroke="#d4d2ce" stroke-width="1"/>
<path d="M774,487 C778,530 782,600 784.5,700 L784.5,1500" fill="none" stroke="#c6c4c0" stroke-width="1.5"/>

<!-- ===== callout lines ===== -->
<rect x="576" y="593" width="580" height="3" fill="#a48e7e"/>
<rect x="49" y="1168" width="401" height="3" fill="#a48e7e"/>
<!-- ===== text ===== -->
<text x="240" y="157" font-size="89" font-weight="bold" fill="#333131" stroke="#f4f1ea" stroke-width="1.4" textLength="721" lengthAdjust="spacingAndGlyphs">Get Accurate Alerts</text>
<text x="231" y="256" font-size="89" font-weight="bold" fill="#333131" stroke="#f4f1ea" stroke-width="1.4" textLength="743" lengthAdjust="spacingAndGlyphs">with Dual Detection</text>
<g font-size="36" fill="#3a3430" stroke="#f6f0e7" stroke-width="0.5">
<text x="897" y="439" textLength="184" lengthAdjust="spacingAndGlyphs">PIR motion</text>
<text x="897" y="498" textLength="261" lengthAdjust="spacingAndGlyphs">detection scans</text>
<text x="898" y="558" textLength="225" lengthAdjust="spacingAndGlyphs">for body heat</text>
<text x="46" y="1034" textLength="229" lengthAdjust="spacingAndGlyphs">Radar motion</text>
<text x="46" y="1094" textLength="261" lengthAdjust="spacingAndGlyphs">detection scans</text>
<text x="48" y="1153" textLength="238" lengthAdjust="spacingAndGlyphs">for movement</text>
</g>
</svg>
</body></html>
